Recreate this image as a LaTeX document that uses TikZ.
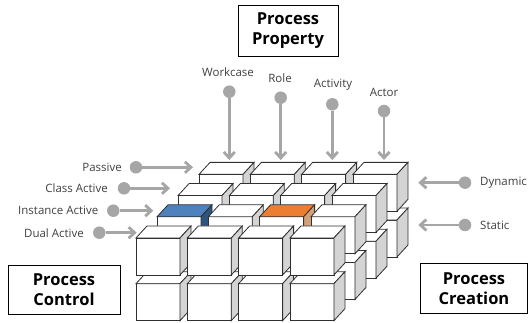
\documentclass[tikz,border=0pt]{standalone}
\usepackage{fontspec}
\setmainfont{Open Sans}
\usetikzlibrary{arrows.meta}
\definecolor{arrgray}{HTML}{A6A6A6}
\definecolor{cubeside}{HTML}{D4D4D4}
\definecolor{cubeline}{HTML}{303030}
\definecolor{cubeblue}{HTML}{4F81BD}
\definecolor{cubebluedark}{HTML}{2E5580}
\definecolor{cubeorange}{HTML}{ED7D31}
\definecolor{cubetan}{HTML}{D4A077}
\definecolor{lbltext}{HTML}{404040}
\newcommand\mycube[4]{%
  \filldraw[cubeedge, fill=white] (#1,#2) rectangle ++(44,37);
  \filldraw[cubeedge, fill=#3] (#1,#2) -- ++(11,-12) -- ++(44,0) -- ++(-11,12) -- cycle;
  \filldraw[cubeedge, fill=#4] (#1+44,#2) -- ++(11,-12) -- ++(0,37) -- ++(-11,12) -- cycle;
}
\begin{document}
\begin{tikzpicture}[x=1pt,y=-1pt,
  cubeedge/.style={draw=cubeline, line width=0.8pt, line join=miter},
  dot/.style={circle, fill=arrgray, minimum size=12.5pt, inner sep=0pt},
  garrow/.style={draw=arrgray, line width=2.8pt, -{Straight Barb[length=6pt,width=11pt]}},
  lbl/.style={font=\fontsize{11.5}{13}\selectfont, text=lbltext, inner sep=0pt},
  titlebox/.style={draw=black, line width=0.9pt, fill=white, align=center,
    font=\fontsize{16.5}{20}\selectfont\bfseries, inner sep=0pt}]
\useasboundingbox (0,0) rectangle (528,323);
\fill[white] (0,0) rectangle (528,323);

% cubes
\foreach \r in {3,2,1,0}{\foreach \l in {1,0}{\foreach \c in {0,1,2,3}{
  \pgfmathsetmacro\cx{136+21*\r+51.3*\c}
  \pgfmathsetmacro\cy{238-21.2*\r+45.7*\l}
  \def\tc{white}\def\sc{cubeside}
  \ifnum\r=1 \ifnum\l=0
    \ifnum\c=0 \def\tc{cubeblue}\def\sc{cubebluedark}\fi
    \ifnum\c=2 \def\tc{cubeorange}\def\sc{cubetan}\fi
  \fi\fi
  \mycube{\cx}{\cy}{\tc}{\sc}
}}}

% title boxes
\node[titlebox, minimum width=100pt, minimum height=51pt] (prop) at (288,30.5) {Process\\Property};
\node[titlebox, minimum width=112pt, minimum height=49pt] (ctrl) at (64,289.5) {Process\\Control};
\node[titlebox, minimum width=107pt, minimum height=50pt] (crea) at (474,288.5) {Process\\Creation};

% top arrows
\node[lbl] (lwork) at (228,72) {Workcase};
\node[lbl] (lrole) at (280,78) {Role};
\node[lbl] (lact) at (333,85) {Activity};
\node[lbl] (lactor) at (384,92.5) {Actor};
\node[dot] (dwork) at (229.3,91.7) {};
\node[dot] (drole) at (280.7,97.7) {};
\node[dot] (dact) at (332.3,104.3) {};
\node[dot] (dactor) at (384,111) {};
\coordinate (twork) at (229.3,160);
\coordinate (trole) at (280.7,160);
\coordinate (tact) at (332.3,160);
\coordinate (tactor) at (384,160);
\draw[garrow] (dwork) -- (twork);
\draw[garrow] (drole) -- (trole);
\draw[garrow] (dact) -- (tact);
\draw[garrow] (dactor) -- (tactor);

% left arrows
\node[lbl, anchor=east] (lpas) at (122,167.3) {Passive};
\node[lbl, anchor=east] (lcls) at (108,188.3) {Class Active};
\node[lbl, anchor=east] (lins) at (98.5,210.7) {Instance Active};
\node[lbl, anchor=east] (ldua) at (84,232.7) {Dual Active};
\node[dot] (dpas) at (136,167.3) {};
\node[dot] (dcls) at (124,188.3) {};
\node[dot] (dins) at (113.3,210.7) {};
\node[dot] (ddua) at (99.3,232.7) {};
\coordinate (tpas) at (193,167.3);
\coordinate (tcls) at (170,188.3);
\coordinate (tins) at (153.3,210.7);
\coordinate (tdua) at (136.7,232.7);
\draw[garrow] (dpas) -- (tpas);
\draw[garrow] (dcls) -- (tcls);
\draw[garrow] (dins) -- (tins);
\draw[garrow] (ddua) -- (tdua);

% right arrows
\node[lbl, anchor=west] (ldyn) at (480,182.7) {Dynamic};
\node[lbl, anchor=west] (lsta) at (480,225) {Static};
\node[dot] (ddyn) at (465,182.7) {};
\node[dot] (dsta) at (465,225) {};
\coordinate (tdyn) at (418.3,182.7);
\coordinate (tsta) at (418.3,225);
\draw[garrow] (ddyn) -- (tdyn);
\draw[garrow] (dsta) -- (tsta);
\end{tikzpicture}
\end{document}
